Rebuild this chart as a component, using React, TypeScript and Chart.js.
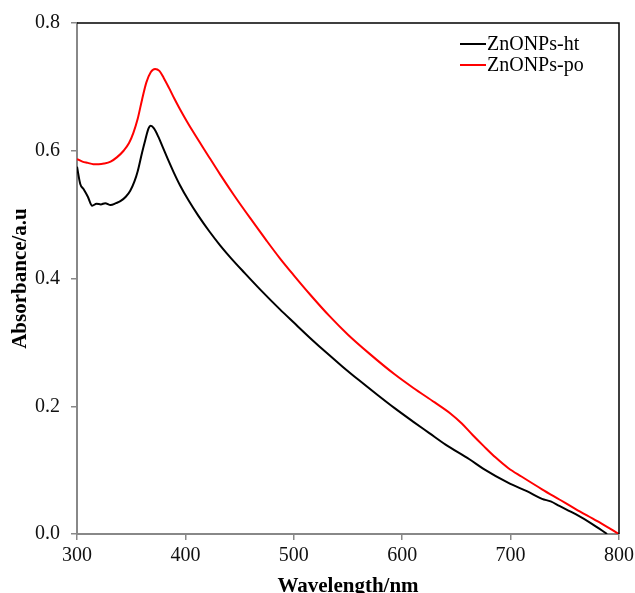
import React, { useEffect, useRef } from "react";
import { Chart, registerables } from "chart.js";

Chart.register(...registerables);

const htLabel = "ZnONPs-ht";
const poLabel = "ZnONPs-po";

const htWavelength = [300, 303, 306, 310, 314, 318, 322, 326, 331, 336, 340, 345, 349, 353, 356, 360, 363, 366, 368, 371, 375, 379, 384, 389, 395, 403, 412, 422, 432, 442, 455, 470, 487, 500, 515, 530, 545, 560, 577, 593, 610, 625, 640, 662, 675, 698, 715, 729, 737, 745, 760, 775, 789];
const htAbsorbance = [0.575, 0.548, 0.540, 0.528, 0.514, 0.517, 0.516, 0.518, 0.515, 0.518, 0.521, 0.528, 0.537, 0.552, 0.568, 0.597, 0.617, 0.635, 0.639, 0.635, 0.622, 0.606, 0.586, 0.567, 0.546, 0.522, 0.498, 0.474, 0.452, 0.432, 0.408, 0.381, 0.352, 0.331, 0.307, 0.284, 0.262, 0.241, 0.218, 0.197, 0.176, 0.158, 0.140, 0.117, 0.102, 0.080, 0.067, 0.055, 0.051, 0.044, 0.031, 0.016, 0.0];

const poWavelength = [300, 305, 310, 315, 320, 325, 331, 337, 343, 348, 352, 356, 360, 364, 368, 372, 376, 380, 385, 390, 395, 401, 407, 420, 432, 445, 460, 475, 487, 500, 515, 533, 550, 570, 593, 610, 630, 645, 655, 665, 675, 686, 698, 710, 729, 745, 760, 780, 797, 800];
const poAbsorbance = [0.587, 0.583, 0.581, 0.579, 0.579, 0.580, 0.583, 0.590, 0.600, 0.612, 0.628, 0.650, 0.680, 0.707, 0.723, 0.728, 0.725, 0.714, 0.698, 0.681, 0.665, 0.647, 0.630, 0.595, 0.563, 0.530, 0.494, 0.459, 0.432, 0.405, 0.375, 0.341, 0.312, 0.282, 0.250, 0.229, 0.206, 0.188, 0.173, 0.155, 0.138, 0.120, 0.103, 0.090, 0.070, 0.054, 0.039, 0.020, 0.003, 0.0];

const xTicks = [300, 400, 500, 600, 700, 800];
const yTicks = [0.0, 0.2, 0.4, 0.6, 0.8];

const serif = "'Liberation Serif', 'Times New Roman', serif";

export default function App() {
  const ref = useRef<HTMLCanvasElement | null>(null);

  useEffect(() => {
    document.body.style.margin = "0";
    const canvas = ref.current;
    if (!canvas) return;

    const frame = {
      id: "frame",
      afterDatasetsDraw(chart: any) {
        const { ctx, chartArea } = chart;
        ctx.save();
        ctx.strokeStyle = "#000";
        ctx.lineWidth = 1.5;
        ctx.beginPath();
        ctx.moveTo(chartArea.left, chartArea.top);
        ctx.lineTo(chartArea.right, chartArea.top);
        ctx.lineTo(chartArea.right, chartArea.bottom);
        ctx.stroke();
        ctx.restore();
      },
      afterDraw(chart: any) {
        const { ctx } = chart;
        ctx.save();
        ctx.font = `20px ${serif}`;
        ctx.textBaseline = "middle";
        ctx.textAlign = "left";
        chart.data.datasets.forEach((ds: any, i: number) => {
          const y = 44 + i * 21;
          ctx.strokeStyle = ds.borderColor;
          ctx.lineWidth = 2;
          ctx.beginPath();
          ctx.moveTo(460, y);
          ctx.lineTo(486, y);
          ctx.stroke();
          ctx.fillStyle = "#000";
          ctx.fillText(ds.label, 487, y + 1);
        });
        ctx.restore();
      },
    };

    const chart = new Chart(canvas, {
      type: "line",
      data: {
        datasets: [
          {
            label: htLabel,
            data: htWavelength.map((x, i) => ({ x, y: htAbsorbance[i] })),
            borderColor: "#000000",
            borderWidth: 2,
            pointRadius: 0,
            cubicInterpolationMode: "monotone",
          },
          {
            label: poLabel,
            data: poWavelength.map((x, i) => ({ x, y: poAbsorbance[i] })),
            borderColor: "#ff0000",
            borderWidth: 2,
            pointRadius: 0,
            cubicInterpolationMode: "monotone",
          },
        ],
      },
      options: {
        animation: false,
        responsive: false,
        layout: { padding: { top: 23, right: 16, bottom: 0, left: 0 } },
        plugins: { legend: { display: false }, tooltip: { enabled: false } },
        scales: {
          x: {
            type: "linear",
            min: 300,
            max: 800,
            afterFit: (s: any) => { s.height = 59; s.paddingLeft = 0; s.paddingRight = 0; },
            afterBuildTicks: (s: any) => { s.ticks = xTicks.map((v) => ({ value: v })); },
            ticks: {
              color: "#111",
              font: { family: serif, size: 20 },
              padding: 4,
              maxRotation: 0,
            },
            grid: { drawOnChartArea: false, drawTicks: true, tickLength: 6, color: "#888", lineWidth: 1.5 },
            border: { display: true, color: "#888", width: 2 },
            title: {
              display: true,
              text: "Wavelength/nm",
              color: "#000",
              font: { family: serif, size: 21, weight: "bold", lineHeight: 0.6 },
              padding: { top: 0, bottom: 0 },
            },
          },
          y: {
            type: "linear",
            min: 0,
            max: 0.8,
            afterFit: (s: any) => { s.width = 77; s.paddingTop = 0; s.paddingBottom = 0; },
            afterBuildTicks: (s: any) => { s.ticks = yTicks.map((v) => ({ value: v })); },
            ticks: {
              color: "#111",
              font: { family: serif, size: 20 },
              padding: 11,
              callback: (v: any) => Number(v).toFixed(1),
            },
            grid: { drawOnChartArea: false, drawTicks: true, tickLength: 6, color: "#888", lineWidth: 1.5 },
            border: { display: true, color: "#888", width: 2 },
            title: {
              display: true,
              text: "Absorbance/a.u",
              color: "#000",
              font: { family: serif, size: 21, weight: "bold", lineHeight: 0.6 },
              padding: { top: 14, bottom: 0 },
            },
          },
        },
      },
      plugins: [frame],
    });

    return () => chart.destroy();
  }, []);

  return <canvas ref={ref} width={635} height={593} style={{ display: "block" }} />;
}
